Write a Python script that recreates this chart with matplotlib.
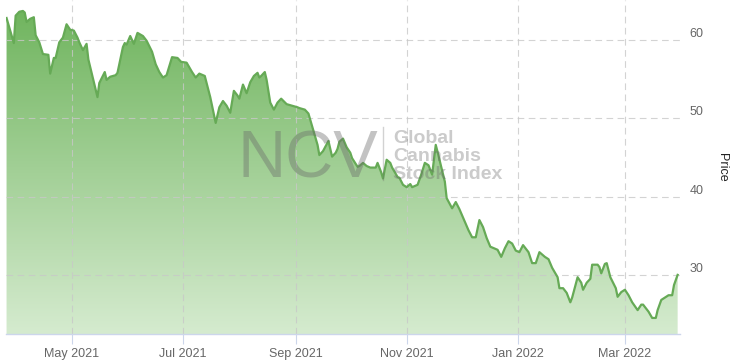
import numpy as np
import pandas as pd
import matplotlib
matplotlib.use("Agg")
import matplotlib.pyplot as plt
import matplotlib.dates as mdates
from matplotlib.colors import LinearSegmentedColormap
from matplotlib.lines import Line2D

# data

dates = [
    "2021-03-26", "2021-03-27", "2021-03-30", "2021-03-31", "2021-04-02", "2021-04-04", "2021-04-05", "2021-04-06",
    "2021-04-08", "2021-04-10", "2021-04-11", "2021-04-13", "2021-04-15", "2021-04-18", "2021-04-19", "2021-04-21",
    "2021-04-22", "2021-04-24", "2021-04-26", "2021-04-28", "2021-04-30", "2021-05-02", "2021-05-04", "2021-05-05",
    "2021-05-07", "2021-05-09", "2021-05-10", "2021-05-15", "2021-05-16", "2021-05-19", "2021-05-20", "2021-05-22",
    "2021-05-25", "2021-05-26", "2021-05-29", "2021-05-30", "2021-05-31", "2021-06-02", "2021-06-04", "2021-06-06",
    "2021-06-09", "2021-06-11", "2021-06-14", "2021-06-16", "2021-06-18", "2021-06-20", "2021-06-22", "2021-06-25",
    "2021-06-28", "2021-06-30", "2021-07-03", "2021-07-06", "2021-07-08", "2021-07-10", "2021-07-13", "2021-07-16",
    "2021-07-19", "2021-07-21", "2021-07-23", "2021-07-25", "2021-07-27", "2021-07-29", "2021-07-31", "2021-08-01",
    "2021-08-03", "2021-08-05", "2021-08-07", "2021-08-09", "2021-08-11", "2021-08-12", "2021-08-13", "2021-08-15",
    "2021-08-16", "2021-08-18", "2021-08-20", "2021-08-22", "2021-08-24", "2021-08-27", "2021-08-30", "2021-09-02",
    "2021-09-03", "2021-09-06", "2021-09-08", "2021-09-10", "2021-09-13", "2021-09-14", "2021-09-16", "2021-09-19",
    "2021-09-21", "2021-09-23", "2021-09-24", "2021-09-25", "2021-09-27", "2021-09-29", "2021-10-01", "2021-10-02",
    "2021-10-05", "2021-10-06", "2021-10-08", "2021-10-10", "2021-10-12", "2021-10-15", "2021-10-16", "2021-10-18",
    "2021-10-19", "2021-10-21", "2021-10-23", "2021-10-24", "2021-10-27", "2021-10-28", "2021-10-30", "2021-11-01",
    "2021-11-03", "2021-11-04", "2021-11-07", "2021-11-09", "2021-11-11", "2021-11-13", "2021-11-15", "2021-11-17",
    "2021-11-18", "2021-11-20", "2021-11-22", "2021-11-23", "2021-11-26", "2021-11-28", "2021-11-30", "2021-12-03",
    "2021-12-05", "2021-12-07", "2021-12-09", "2021-12-11", "2021-12-13", "2021-12-15", "2021-12-17", "2021-12-20",
    "2021-12-21", "2021-12-23", "2021-12-25", "2021-12-27", "2021-12-29", "2021-12-31", "2022-01-02", "2022-01-04",
    "2022-01-07", "2022-01-09", "2022-01-11", "2022-01-13", "2022-01-16", "2022-01-18", "2022-01-20", "2022-01-23",
    "2022-01-24", "2022-01-26", "2022-01-28", "2022-01-30", "2022-01-31", "2022-02-03", "2022-02-05", "2022-02-06",
    "2022-02-08", "2022-02-10", "2022-02-11", "2022-02-14", "2022-02-15", "2022-02-16", "2022-02-18", "2022-02-19",
    "2022-02-21", "2022-02-24", "2022-02-25", "2022-02-27", "2022-03-01", "2022-03-03", "2022-03-05", "2022-03-08",
    "2022-03-10", "2022-03-11", "2022-03-14", "2022-03-16", "2022-03-18", "2022-03-19", "2022-03-21", "2022-03-23",
    "2022-03-25", "2022-03-27", "2022-03-28", "2022-03-30",
]

prices = [
    62.8, 62.0, 59.6, 63.1, 63.6, 63.7, 63.5, 62.3,
    62.7, 62.9, 60.6, 59.7, 58.2, 58.1, 55.7, 57.7,
    57.7, 59.7, 60.3, 62.0, 61.3, 61.2, 60.3, 59.7,
    58.7, 59.5, 57.5, 52.7, 54.5, 55.9, 54.9, 55.3,
    55.5, 55.8, 59.1, 59.6, 59.4, 60.5, 59.5, 60.9,
    60.5, 59.9, 58.5, 56.9, 55.9, 55.2, 55.5, 57.8,
    57.7, 57.2, 57.1, 55.9, 55.2, 55.7, 55.4, 52.7,
    49.4, 51.4, 52.2, 51.6, 50.7, 53.5, 52.9, 52.5,
    54.3, 53.2, 54.6, 55.4, 55.8, 55.2, 55.4, 55.9,
    54.9, 52.0, 51.1, 52.0, 52.5, 51.8, 51.6, 51.4,
    51.3, 51.1, 50.6, 49.0, 46.6, 45.3, 45.8, 47.1,
    45.1, 45.6, 46.1, 47.0, 47.4, 46.3, 45.6, 44.9,
    43.8, 43.9, 44.3, 43.9, 43.7, 43.7, 44.3, 43.1,
    42.3, 44.7, 44.3, 43.7, 42.5, 42.4, 41.5, 41.2,
    41.6, 41.2, 41.5, 42.8, 44.3, 44.0, 42.8, 46.6,
    45.7, 43.8, 41.9, 39.8, 38.5, 39.3, 38.4, 36.8,
    35.7, 34.8, 34.8, 37.0, 36.1, 34.7, 33.6, 33.3,
    33.2, 32.3, 33.4, 34.3, 34.0, 33.1, 32.9, 33.8,
    32.9, 31.5, 31.5, 32.9, 32.3, 32.0, 30.9, 29.7,
    28.3, 28.3, 27.7, 26.5, 27.1, 29.7, 29.0, 28.1,
    29.0, 29.5, 31.3, 31.3, 31.0, 30.2, 31.4, 31.5,
    29.7, 28.3, 27.2, 27.8, 28.1, 27.4, 26.5, 25.5,
    26.2, 26.2, 25.3, 24.5, 24.5, 25.5, 26.8, 27.1,
    27.4, 27.4, 28.7, 30.0,
]

x_tick_dates  = ["2021-05-01", "2021-07-01", "2021-09-01", "2021-11-01", "2022-01-01", "2022-03-01"]
x_tick_labels = ["May 2021", "Jul 2021", "Sep 2021", "Nov 2021", "Jan 2022", "Mar 2022"]
y_ticks = [30, 40, 50, 60]

# style
LINE_COLOR = "#66aa56"
TOP_COLOR = "#6db35b"
BOTTOM_COLOR = "#d5ebcf"
GRID_COLOR = "#c8c8c8"
AXIS_COLOR = "#ccd6eb"
LABEL_COLOR = "#666666"
WM_COLOR = "#6a6a6a"

plt.rcParams["font.family"] = ["Liberation Sans", "DejaVu Sans"]

fig = plt.figure(figsize=(7.32, 3.62), dpi=100)
ax = fig.add_axes([6 / 732, 28 / 362, 674 / 732, 334 / 362])

x = mdates.date2num(pd.to_datetime(dates))
y = np.array(prices)

x0 = mdates.date2num(pd.Timestamp("2021-05-01")) - 36.3
x1 = mdates.date2num(pd.Timestamp("2021-05-01")) + 334.3
y0, y1 = 22.45, 65.1

# gradient fill under the line
poly = ax.fill_between(x, y, y0, color="none", lw=0)
cmap = LinearSegmentedColormap.from_list("grn", [BOTTOM_COLOR, TOP_COLOR])
grad = np.linspace(0, 1, 256).reshape(-1, 1)
im = ax.imshow(grad, extent=[x0, x1, y0, y1], origin="lower", cmap=cmap,
               aspect="auto", zorder=1)
im.set_clip_path(poly.get_paths()[0], transform=ax.transData)

ax.plot(x, y, color=LINE_COLOR, lw=1.6, zorder=4, solid_joinstyle="round")

# dashed grid on top of the fill
for t in y_ticks:
    ax.axhline(t, color=GRID_COLOR, lw=0.8, ls=(0, (6, 4)), alpha=0.8, zorder=2)
tick_x = mdates.date2num(pd.to_datetime(x_tick_dates))
for t in tick_x:
    ax.axvline(t, color=GRID_COLOR, lw=0.8, ls=(0, (6, 4)), alpha=0.8, zorder=2)

ax.set_xlim(x0, x1)
ax.set_ylim(y0, y1)

ax.set_xticks(tick_x, x_tick_labels)
ax.set_yticks(y_ticks, [str(v) for v in y_ticks])
ax.yaxis.tick_right()
ax.tick_params(axis="x", length=7, width=0.8, color=AXIS_COLOR, pad=3,
               labelsize=9, labelcolor=LABEL_COLOR)
ax.tick_params(axis="y", length=0, pad=7, labelsize=9, labelcolor=LABEL_COLOR)
for lab in ax.get_yticklabels():
    lab.set_verticalalignment("bottom")
    lab.set_horizontalalignment("left")

for side in ["top", "left", "right"]:
    ax.spines[side].set_visible(False)
ax.spines["bottom"].set_color(AXIS_COLOR)
ax.spines["bottom"].set_linewidth(1.0)
ax.spines["bottom"].set_zorder(5)

fig.text(722 / 732, 1 - 167 / 362, "Price", rotation=-90,
         ha="center", va="center", fontsize=9, color="#222222")

# watermark
fig.text(238 / 732, 1 - 178 / 362, "NCV", fontsize=48, color=WM_COLOR,
         alpha=0.4, va="baseline", ha="left", zorder=6)
fig.add_artist(Line2D([383 / 732, 383 / 732], [1 - 127 / 362, 1 - 180 / 362],
                      color=WM_COLOR, alpha=0.3, lw=1))
for i, word in enumerate(["Global", "Cannabis", "Stock Index"]):
    fig.text(393 / 732, 1 - (143 + 18 * i) / 362, word, fontsize=14,
             fontweight="bold", color=WM_COLOR, alpha=0.35,
             va="baseline", ha="left", zorder=6)

fig.savefig("out.png", dpi=100)
